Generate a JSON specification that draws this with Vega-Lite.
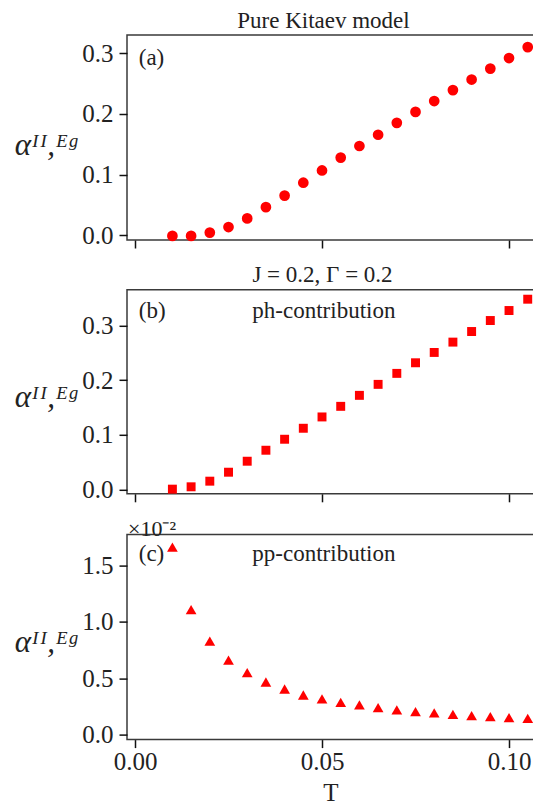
{
  "$schema": "https://vega.github.io/schema/vega-lite/v6.json",
  "padding": {"left": 13, "top": 8, "right": 0, "bottom": 0},
  "background": "white",
  "config": {
    "font": "Liberation Serif",
    "view": {"stroke": "#3a3a3a", "strokeWidth": 1.5},
    "axis": {
      "domain": false, "grid": false,
      "tickColor": "#111", "tickSize": 8, "tickWidth": 1.5,
      "labelFont": "Liberation Serif", "labelFontSize": 25, "labelColor": "#222", "labelPadding": 6,
      "titleFont": "Liberation Serif", "titleFontWeight": "normal", "titleColor": "#222"
    },
    "axisY": {"titleAngle": 0, "titleAlign": "left", "titleBaseline": "alphabetic", "titleFontSize": 31, "titleFontStyle": "italic", "titleX": -112.7},
    "title": {"font": "Liberation Serif", "fontSize": 23, "fontWeight": "normal", "color": "#222"},
    "text": {"font": "Liberation Serif", "fontSize": 23, "color": "#222"}
  },
  "datasets": {
    "kitaev": [
      {"T": 0.010, "alpha": -0.001}, {"T": 0.015, "alpha": -0.001}, {"T": 0.020, "alpha": 0.0044},
      {"T": 0.025, "alpha": 0.0136}, {"T": 0.030, "alpha": 0.0278}, {"T": 0.035, "alpha": 0.0463},
      {"T": 0.040, "alpha": 0.0653}, {"T": 0.045, "alpha": 0.0866}, {"T": 0.050, "alpha": 0.1067},
      {"T": 0.055, "alpha": 0.1279}, {"T": 0.060, "alpha": 0.1470}, {"T": 0.065, "alpha": 0.1655},
      {"T": 0.070, "alpha": 0.1851}, {"T": 0.075, "alpha": 0.2031}, {"T": 0.080, "alpha": 0.2210},
      {"T": 0.085, "alpha": 0.2390}, {"T": 0.090, "alpha": 0.2564}, {"T": 0.095, "alpha": 0.2744},
      {"T": 0.100, "alpha": 0.2918}, {"T": 0.105, "alpha": 0.3098}
    ],
    "ph": [
      {"T": 0.010, "alpha": 0.0006}, {"T": 0.015, "alpha": 0.0049}, {"T": 0.020, "alpha": 0.0152},
      {"T": 0.025, "alpha": 0.0316}, {"T": 0.030, "alpha": 0.0517}, {"T": 0.035, "alpha": 0.0718},
      {"T": 0.040, "alpha": 0.0919}, {"T": 0.045, "alpha": 0.1120}, {"T": 0.050, "alpha": 0.1327},
      {"T": 0.055, "alpha": 0.1521}, {"T": 0.060, "alpha": 0.1722}, {"T": 0.065, "alpha": 0.1923},
      {"T": 0.070, "alpha": 0.2124}, {"T": 0.075, "alpha": 0.2318}, {"T": 0.080, "alpha": 0.2507},
      {"T": 0.085, "alpha": 0.2696}, {"T": 0.090, "alpha": 0.2890}, {"T": 0.095, "alpha": 0.3091},
      {"T": 0.100, "alpha": 0.3274}, {"T": 0.105, "alpha": 0.3481}
    ],
    "pp": [
      {"T": 0.010, "alpha": 1.662}, {"T": 0.015, "alpha": 1.109}, {"T": 0.020, "alpha": 0.829},
      {"T": 0.025, "alpha": 0.662}, {"T": 0.030, "alpha": 0.550}, {"T": 0.035, "alpha": 0.468},
      {"T": 0.040, "alpha": 0.406}, {"T": 0.045, "alpha": 0.353}, {"T": 0.050, "alpha": 0.318},
      {"T": 0.055, "alpha": 0.288}, {"T": 0.060, "alpha": 0.265}, {"T": 0.065, "alpha": 0.241},
      {"T": 0.070, "alpha": 0.221}, {"T": 0.075, "alpha": 0.206}, {"T": 0.080, "alpha": 0.194},
      {"T": 0.085, "alpha": 0.182}, {"T": 0.090, "alpha": 0.171}, {"T": 0.095, "alpha": 0.162},
      {"T": 0.100, "alpha": 0.153}, {"T": 0.105, "alpha": 0.147}
    ]
  },
  "spacing": 12.8,
  "vconcat": [
    {
      "width": 407, "height": 205,
      "title": {"text": "Pure Kitaev model", "anchor": "middle", "frame": "group", "baseline": "alphabetic", "offset": -15.5, "dx": -7},
      "layer": [
        {
          "data": {"name": "kitaev"},
          "mark": {"type": "point", "shape": "circle", "filled": true, "size": 115, "color": "#ff0000", "opacity": 1},
          "encoding": {
            "x": {"field": "T", "type": "quantitative", "scale": {"domain": [-0.00214, 0.10668], "nice": false, "zero": false},
                  "axis": {"values": [0, 0.05, 0.1], "labels": false, "title": null}},
            "y": {"field": "alpha", "type": "quantitative", "scale": {"domain": [-0.00775, 0.3297], "nice": false, "zero": false},
                  "axis": {"values": [0, 0.1, 0.2, 0.3], "format": ".1f", "title": "αᴵᴵ,ᴱᵍ", "titleY": 119}}
          }
        },
        {
          "data": {"values": [{}]},
          "mark": {"type": "text", "align": "left", "baseline": "alphabetic", "text": "(a)"},
          "encoding": {"x": {"datum": 0.001, "type": "quantitative"}, "y": {"datum": 0.281, "type": "quantitative"}}
        }
      ]
    },
    {
      "width": 407, "height": 204,
      "title": {"text": "J = 0.2, Γ = 0.2", "anchor": "middle", "frame": "group", "baseline": "alphabetic", "offset": -14.9, "dx": -8},
      "layer": [
        {
          "data": {"name": "ph"},
          "mark": {"type": "point", "shape": "square", "filled": true, "size": 80, "color": "#ff0000", "opacity": 1},
          "encoding": {
            "x": {"field": "T", "type": "quantitative", "scale": {"domain": [-0.00214, 0.10668], "nice": false, "zero": false},
                  "axis": {"values": [0, 0.05, 0.1], "labels": false, "title": null}},
            "y": {"field": "alpha", "type": "quantitative", "scale": {"domain": [-0.0079, 0.3653], "nice": false, "zero": false},
                  "axis": {"values": [0, 0.1, 0.2, 0.3], "format": ".1f", "title": "αᴵᴵ,ᴱᵍ", "titleY": 117}}
          }
        },
        {
          "data": {"values": [{}]},
          "mark": {"type": "text", "align": "left", "baseline": "alphabetic", "text": "(b)"},
          "encoding": {"x": {"datum": 0.001, "type": "quantitative"}, "y": {"datum": 0.314, "type": "quantitative"}}
        },
        {
          "data": {"values": [{}]},
          "mark": {"type": "text", "align": "center", "baseline": "alphabetic", "text": "ph-contribution"},
          "encoding": {"x": {"datum": 0.0505, "type": "quantitative"}, "y": {"datum": 0.314, "type": "quantitative"}}
        }
      ]
    },
    {
      "width": 407, "height": 205,
      "title": {"text": "×10⁻²", "anchor": "start", "frame": "group", "baseline": "alphabetic", "offset": -23.5, "fontSize": 22, "dx": 1},
      "layer": [
        {
          "data": {"name": "pp"},
          "mark": {"type": "point", "shape": "triangle-up", "filled": true, "size": 115, "color": "#ff0000", "opacity": 1},
          "encoding": {
            "x": {"field": "T", "type": "quantitative", "scale": {"domain": [-0.00214, 0.10668], "nice": false, "zero": false},
                  "axis": {"values": [0, 0.05, 0.1], "format": ".2f", "title": "T", "titleFontSize": 25, "titlePadding": 6, "labelPadding": 2}},
            "y": {"field": "alpha", "type": "quantitative", "scale": {"domain": [-0.0416, 1.772], "nice": false, "zero": false},
                  "axis": {"values": [0, 0.5, 1.0, 1.5], "format": ".1f", "title": "αᴵᴵ,ᴱᵍ", "titleY": 117}}
          }
        },
        {
          "data": {"values": [{}]},
          "mark": {"type": "text", "align": "left", "baseline": "alphabetic", "text": "(c)"},
          "encoding": {"x": {"datum": 0.001, "type": "quantitative"}, "y": {"datum": 1.535, "type": "quantitative"}}
        },
        {
          "data": {"values": [{}]},
          "mark": {"type": "text", "align": "center", "baseline": "alphabetic", "text": "pp-contribution"},
          "encoding": {"x": {"datum": 0.0505, "type": "quantitative"}, "y": {"datum": 1.535, "type": "quantitative"}}
        }
      ]
    }
  ]
}
